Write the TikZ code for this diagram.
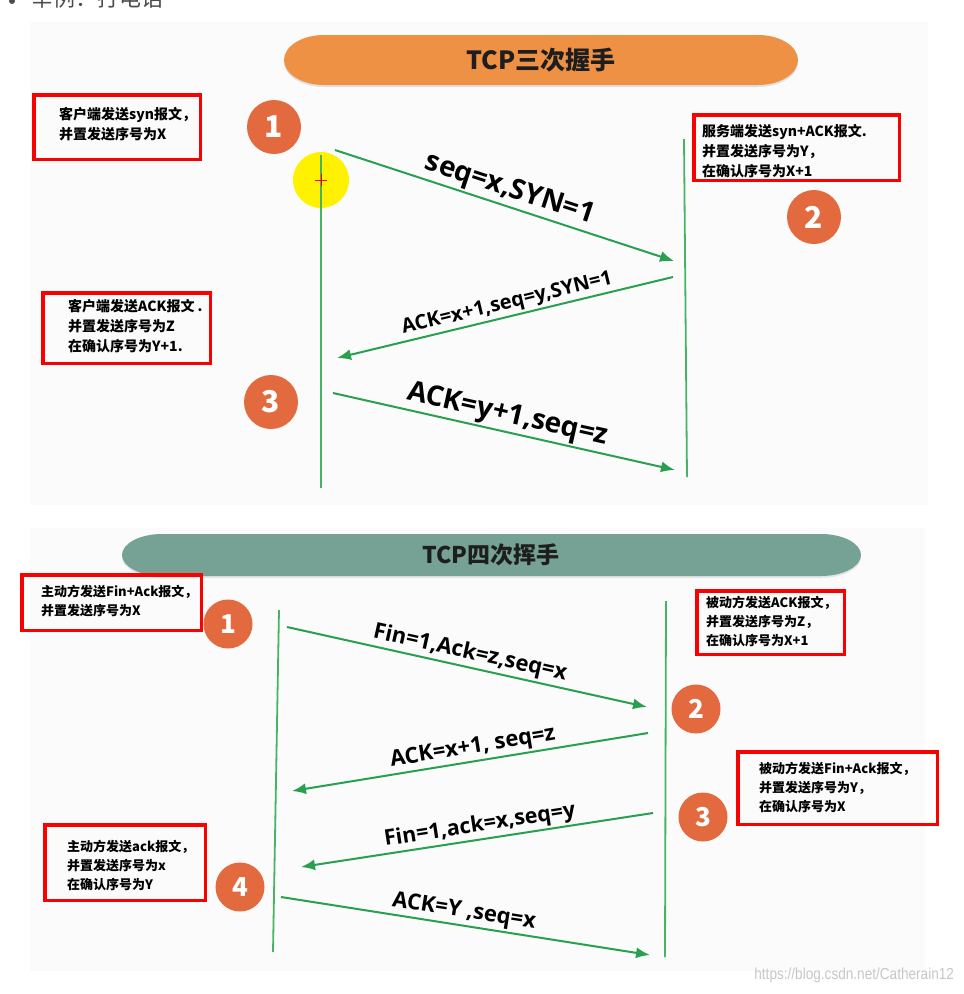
\documentclass[tikz,border=0pt]{standalone}
\usepackage{fontspec}
\setmainfont{Noto Sans CJK SC}
\newfontfamily\lblfont{Open Sans}
\newfontfamily\wmfont{Liberation Sans}
\usetikzlibrary{arrows.meta}
\definecolor{lifegreen}{RGB}{70,180,100}
\definecolor{arrgreen}{RGB}{40,160,80}
\definecolor{boxred}{RGB}{250,0,0}
\definecolor{numorange}{RGB}{226,106,62}
\definecolor{pillorange}{RGB}{238,145,68}
\definecolor{pillteal}{RGB}{117,162,148}
\definecolor{panel}{RGB}{251,251,251}
\definecolor{hl}{RGB}{255,242,0}
\definecolor{titletext}{RGB}{30,30,30}
\begin{document}
\begin{tikzpicture}[x=1pt,y=1pt,
 redbox/.style={draw=boxred,line width=3.5pt,inner sep=0pt},
 note/.style={anchor=west,align=left,inner sep=0pt,font=\bfseries\fontsize{14}{20}\selectfont},
 noteb/.style={anchor=west,align=left,inner sep=0pt,font=\bfseries\fontsize{13}{19}\selectfont},
 numc/.style={circle,fill=numorange,text=white,inner sep=0pt,minimum size=54pt,font=\bfseries\fontsize{30}{30}\selectfont},
 numb/.style={circle,fill=numorange,text=white,inner sep=0pt,minimum size=49pt,font=\bfseries\fontsize{26}{26}\selectfont},
 life/.style={draw=lifegreen,line width=1.8pt},
 msg/.style={draw=arrgreen,line width=2pt,-{Latex[length=14pt,width=11pt]}},
 lbl/.style={sloped,above,inner sep=2pt,text=black},
]
\useasboundingbox (0,0) rectangle (964,-994);
\fill[white] (0,0) rectangle (964,-994);
% cut header line
\fill[black!70] (12,-1) circle (3);
\node[anchor=base west,inner sep=0pt,text=black!70,font=\fontsize{22}{22}\selectfont] (hdr) at (31,-6) {举例：打电话};
% panels
\fill[panel] (30,-22) rectangle (928,-505);
\fill[panel] (30,-528) rectangle (925,-971);
% pills
\fill[black!12] (324,-37) -- (758,-37) arc[start angle=90,end angle=-90,x radius=40,y radius=25] -- (324,-87) arc[start angle=270,end angle=90,x radius=40,y radius=25] -- cycle;
\fill[pillorange] (324,-35) -- (758,-35) arc[start angle=90,end angle=-90,x radius=40,y radius=25] -- (324,-85) arc[start angle=270,end angle=90,x radius=40,y radius=25] -- cycle;
\node[text=titletext,font=\bfseries\fontsize{25}{25}\selectfont] (title1) at (541,-60) {TCP三次握手};
\fill[black!10] (162,-536) -- (821,-536) arc[start angle=90,end angle=-90,x radius=40,y radius=21] -- (162,-578) arc[start angle=270,end angle=90,x radius=40,y radius=21] -- cycle;
\fill[pillteal] (162,-534) -- (821,-534) arc[start angle=90,end angle=-90,x radius=40,y radius=21] -- (162,-576) arc[start angle=270,end angle=90,x radius=40,y radius=21] -- cycle;
\node[text=titletext,font=\bfseries\fontsize{23}{23}\selectfont] (title2) at (491,-555) {TCP四次挥手};
% highlight
\fill[hl] (321,-180) circle (28);
% lifelines
\coordinate (L1t) at (321,-155); \coordinate (L1b) at (321,-488);
\coordinate (R1t) at (684,-139); \coordinate (R1b) at (687,-477);
\coordinate (L2t) at (279,-610); \coordinate (L2b) at (273,-952);
\coordinate (R2t) at (666,-601); \coordinate (R2b) at (665,-957);
\draw[life] (L1t) -- (L1b);
\draw[life] (R1t) -- (R1b);
\draw[life] (L2t) -- (L2b);
\draw[life] (R2t) -- (R2b);
% cursor plus
\coordinate (cur) at (321,-180);
\draw[red,line width=1pt] ([xshift=-6pt]cur) -- ([xshift=6pt]cur) ([yshift=-6pt]cur) -- ([yshift=6pt]cur);
% red boxes
\node[redbox,minimum width=166.5pt,minimum height=64.5pt] (b1) at (117,-127) {};
\node[note] (t1) at (59,-124) {客户端发送syn报文，\\并置发送序号为X};
\node[redbox,minimum width=205.5pt,minimum height=65.5pt] (b2) at (796.5,-147.5) {};
\node[note] (t2) at (702,-151) {服务端发送syn+ACK报文.\\并置发送序号为Y，\\在确认序号为X+1};
\node[redbox,minimum width=167.5pt,minimum height=70.5pt] (b3) at (126.5,-328) {};
\node[note] (t3) at (68,-326) {客户端发送ACK报文 .\\并置发送序号为Z\\在确认序号为Y+1.};
\node[redbox,minimum width=179.5pt,minimum height=55.5pt] (bA) at (111.5,-602.5) {};
\node[noteb] (tA) at (41,-601.5) {主动方发送Fin+Ack报文，\\并置发送序号为X};
\node[redbox,minimum width=147.5pt,minimum height=63.5pt] (bB) at (770.5,-622.5) {};
\node[noteb] (tB) at (706,-621) {被动方发送ACK报文，\\并置发送序号为Z，\\在确认序号为X+1};
\node[redbox,minimum width=199.5pt,minimum height=72.5pt] (bC) at (837.5,-788) {};
\node[noteb] (tC) at (759,-787) {被动方发送Fin+Ack报文，\\并置发送序号为Y，\\在确认序号为X};
\node[redbox,minimum width=160.5pt,minimum height=75.5pt] (bD) at (125,-862.5) {};
\node[noteb] (tD) at (67,-865) {主动方发送ack报文，\\并置发送序号为x\\在确认序号为Y};
% number circles
\node[numc] (c1) at (274,-127) {1};
\node[numc] (c2) at (814,-217) {2};
\node[numc] (c3) at (271,-402) {3};
\node[numb] (d1) at (228,-624) {1};
\node[numb] (d2) at (696,-709) {2};
\node[numb] (d3) at (703,-817) {3};
\node[numb] (d4) at (240,-887) {4};
% message coordinates
\coordinate (m1s) at (335,-150); \coordinate (m1e) at (674,-261);
\coordinate (m2s) at (673,-277); \coordinate (m2e) at (337,-358);
\coordinate (m3s) at (333,-393); \coordinate (m3e) at (675,-470);
\coordinate (n1s) at (287,-627); \coordinate (n1e) at (647,-707);
\coordinate (n2s) at (648,-733); \coordinate (n2e) at (292,-791);
\coordinate (n3s) at (653,-813); \coordinate (n3e) at (301,-867);
\coordinate (n4s) at (281,-897); \coordinate (n4e) at (650,-955);
\draw[msg] (m1s) -- node[lbl,pos=0.5,font=\lblfont\bfseries\fontsize{28}{28}\selectfont] (l1) {seq=x,SYN=1} (m1e);
\draw[msg] (m2s) -- node[lbl,pos=0.485,font=\lblfont\bfseries\fontsize{20}{20}\selectfont] (l2) {ACK=x+1,seq=y,SYN=1} (m2e);
\draw[msg] (m3s) -- node[lbl,pos=0.5,font=\lblfont\bfseries\fontsize{28}{28}\selectfont] (l3) {ACK=y+1,seq=z} (m3e);
\draw[msg] (n1s) -- node[lbl,pos=0.5,font=\lblfont\bfseries\fontsize{22}{22}\selectfont] (k1) {Fin=1,Ack=z,seq=x} (n1e);
\draw[msg] (n2s) -- node[lbl,pos=0.486,font=\lblfont\bfseries\fontsize{22}{22}\selectfont] (k2) {ACK=x+1, seq=z} (n2e);
\draw[msg] (n3s) -- node[lbl,pos=0.486,font=\lblfont\bfseries\fontsize{21.5}{21.5}\selectfont] (k3) {Fin=1,ack=x,seq=y} (n3e);
\draw[msg] (n4s) -- node[lbl,pos=0.49,font=\lblfont\bfseries\fontsize{22}{22}\selectfont] (k4) {ACK=Y ,seq=x} (n4e);
% watermark
\node[anchor=east,text=black!22,font=\wmfont\fontsize{16}{16}\selectfont,xscale=0.85,transform shape] (wm) at (957,-975) {https://blog.csdn.net/Catherain12};
\end{tikzpicture}
\end{document}
